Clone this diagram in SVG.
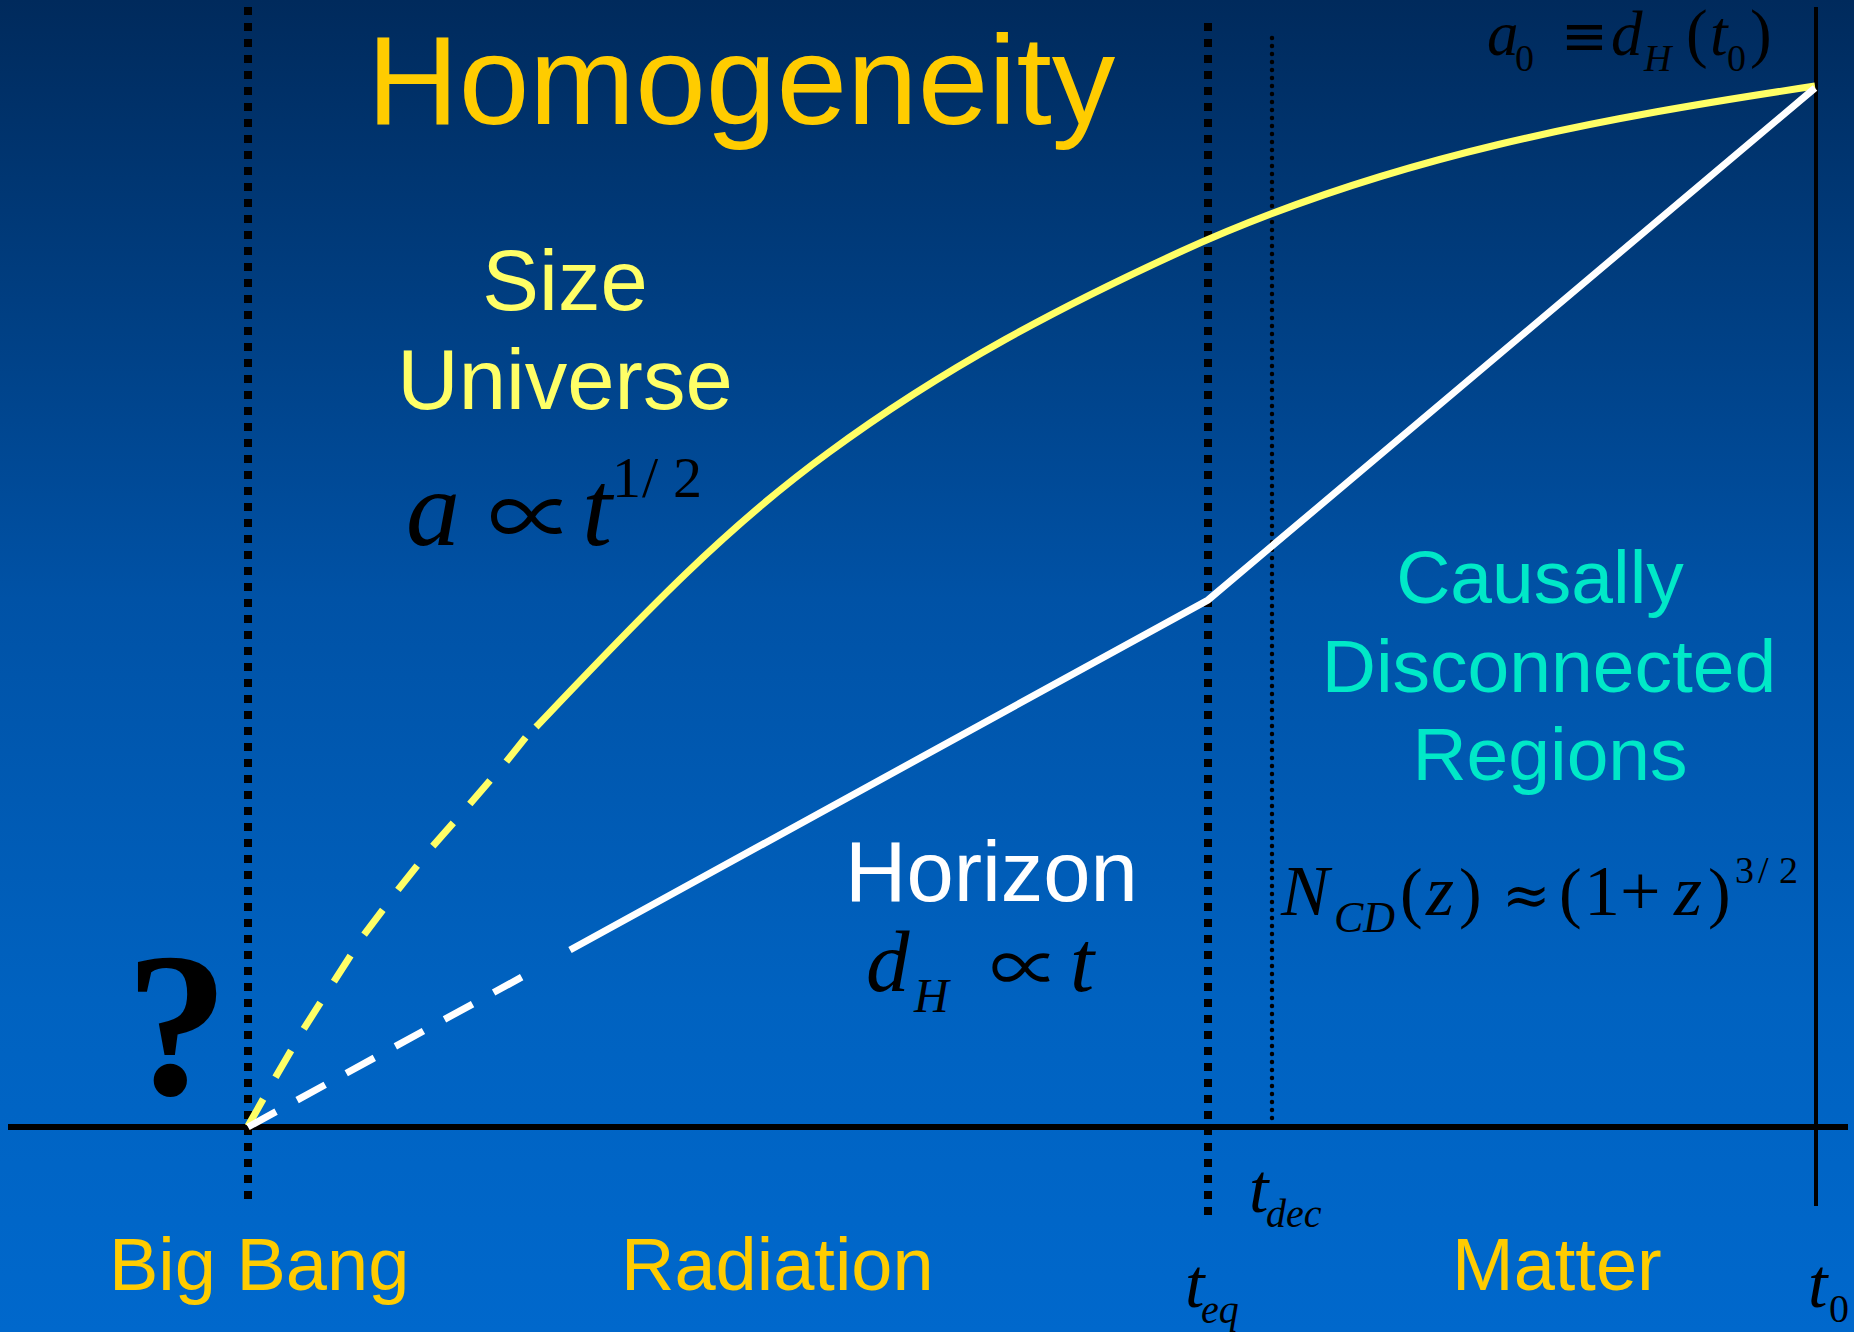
<svg xmlns="http://www.w3.org/2000/svg" width="1854" height="1332" viewBox="0 0 1854 1332">
<defs>
<linearGradient id="bg" x1="0" y1="0" x2="0" y2="1">
<stop offset="0" stop-color="#002a5c"/>
<stop offset="0.45" stop-color="#0052a6"/>
<stop offset="0.75" stop-color="#0062c0"/>
<stop offset="1" stop-color="#0068cc"/>
</linearGradient>
<style>
.sans{font-family:"Liberation Sans",Arial,sans-serif;}
.gold{fill:#ffcc00;}
.lyel{fill:#ffff66;}
.cyan{fill:#00e8c8;}
.math{font-family:"Liberation Serif","DejaVu Serif",serif;fill:#000;}
.it{font-style:italic;}
.sym{font-family:"DejaVu Serif","Liberation Serif",serif;fill:#000;}
.prop{font-family:"Noto Sans CJK JP","DejaVu Serif",sans-serif;fill:#000;}
.yel{fill:none;stroke:#ffff66;stroke-width:7;}
.wht{fill:none;stroke:#ffffff;stroke-width:7;}
.sq{stroke:#000;stroke-width:8;stroke-dasharray:8 8;fill:none;}
</style>
</defs>
<rect x="0" y="0" width="1854" height="1332" fill="url(#bg)"/>

<g id="axes">
<line class="sq" x1="248" y1="7" x2="248" y2="1199"/>
<line class="sq" x1="1208" y1="23" x2="1208" y2="1215"/>
<line x1="1272" y1="38" x2="1272" y2="1122" stroke="#000" stroke-width="4.5" stroke-linecap="round" stroke-dasharray="0 8"/>
<line x1="1816" y1="7" x2="1816" y2="1206" stroke="#000" stroke-width="4"/>
<line x1="8" y1="1127" x2="1848" y2="1127" stroke="#000" stroke-width="6"/>
</g>

<g id="connectors">
<path class="yel" d="M536,727 C635,623 721,531 828,453 C946,366 1064,305 1182,251 C1393,155 1604,118 1815,86"/>
<path class="yel" stroke-dasharray="31 25" d="M248,1126 L275,1078 L303,1030 L333,983 L363,936 L397,891 L432,847 L469,805 L506,762 L526,737"/>
<path class="wht" d="M1815,88 L1208,600 L570,950"/>
<path class="wht" stroke-dasharray="32 24" d="M248,1127 L522,977"/>
</g>

<g id="title">
<text class="sans gold" x="367" y="124" font-size="127">Homogeneity</text>
</g>

<g id="size-universe">
<text class="sans lyel" x="565" y="310" font-size="85" text-anchor="middle">Size</text>
<text class="sans lyel" x="565" y="409" font-size="85" text-anchor="middle">Universe</text>
<text class="math" y="545" font-size="108"><tspan class="it" x="406">a</tspan><tspan class="it" x="582">t</tspan><tspan x="612" y="497" font-size="58">1</tspan><tspan x="642" y="497" font-size="58">/</tspan><tspan x="673" y="497" font-size="58">2</tspan></text>
<text class="prop" x="488" y="550" font-size="87">∝</text>
</g>

<g id="horizon">
<text class="sans" fill="#ffffff" x="845" y="901" font-size="85">Horizon</text>
<text class="math" y="991" font-size="87"><tspan class="it" x="866">d</tspan><tspan class="it" x="914" y="1012" font-size="48">H</tspan><tspan class="it" x="1070" y="991">t</tspan></text>
<text class="prop" x="990" y="994" font-size="70">∝</text>
</g>

<g id="causal">
<text class="sans cyan" x="1540" y="603" font-size="75" text-anchor="middle">Causally</text>
<text class="sans cyan" x="1549" y="692" font-size="75" text-anchor="middle">Disconnected</text>
<text class="sans cyan" x="1550" y="780" font-size="75" text-anchor="middle">Regions</text>
<text class="math" y="915" font-size="72"><tspan class="it" x="1281">N</tspan><tspan class="it" x="1334" y="932" font-size="44">CD</tspan><tspan x="1400" y="915" font-size="68">(</tspan><tspan class="it" x="1426">z</tspan><tspan x="1459" font-size="68">)</tspan><tspan class="sym" x="1502" font-size="58">≈</tspan><tspan x="1559" font-size="68">(</tspan><tspan x="1584">1</tspan><tspan x="1620">+</tspan><tspan class="it" x="1674">z</tspan><tspan x="1708" font-size="68">)</tspan><tspan x="1735" y="883" font-size="38">3</tspan><tspan x="1758" y="883" font-size="38">/</tspan><tspan x="1779" y="883" font-size="38">2</tspan></text>
</g>

<g id="a0">
<text class="math" y="55" font-size="63"><tspan class="it" x="1487">a</tspan><tspan x="1515" y="71" font-size="38">0</tspan><tspan class="sym" x="1561" y="55" font-size="56">≡</tspan><tspan class="it" x="1611">d</tspan><tspan class="it" x="1644" y="71" font-size="38">H</tspan><tspan x="1686" y="55" font-size="65">(</tspan><tspan class="it" x="1710">t</tspan><tspan x="1727" y="71" font-size="38">0</tspan><tspan x="1750" y="55" font-size="65">)</tspan></text>
</g>

<g id="question">
<text x="177" y="1094" font-size="206" font-weight="bold" text-anchor="middle" font-family="Liberation Serif, serif" fill="#000">?</text>
</g>

<g id="era-labels">
<text class="sans gold" x="109" y="1290" font-size="74">Big Bang</text>
<text class="sans gold" x="621" y="1290" font-size="74">Radiation</text>
<text class="sans gold" x="1452" y="1290" font-size="74">Matter</text>
</g>

<g id="time-labels">
<text class="math" y="1307" font-size="70"><tspan class="it" x="1185">t</tspan><tspan class="it" x="1201" y="1323" font-size="40">eq</tspan></text>
<text class="math" y="1212" font-size="70"><tspan class="it" x="1249">t</tspan><tspan class="it" x="1266" y="1227" font-size="40">dec</tspan></text>
<text class="math" y="1307" font-size="70"><tspan class="it" x="1808">t</tspan><tspan x="1829" y="1322" font-size="40">0</tspan></text>
</g>
</svg>
